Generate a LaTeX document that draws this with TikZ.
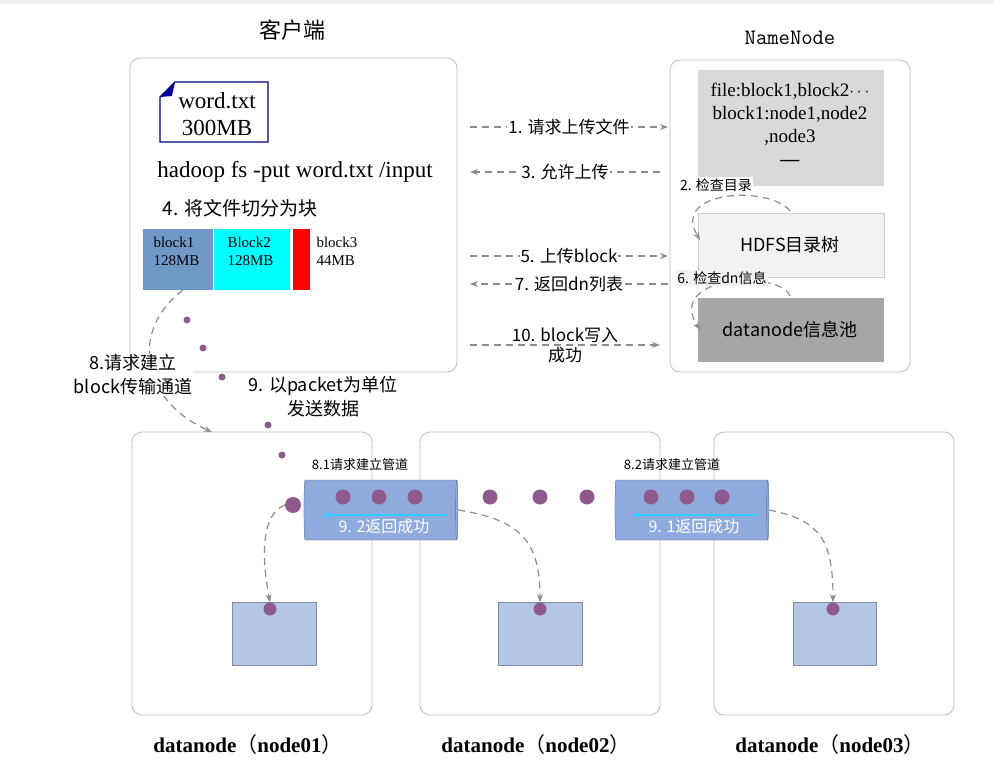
\documentclass[tikz,border=0pt]{standalone}
\usepackage{fontspec}
\setmainfont{Liberation Serif}
\newfontfamily\cjk{Noto Sans CJK SC}
\usetikzlibrary{arrows.meta,shapes.geometric}
\definecolor{dotc}{HTML}{8E5A8E}
\definecolor{cyl}{HTML}{8FAADC}
\definecolor{sbox}{HTML}{B4C7E7}
\definecolor{blk1}{HTML}{7099C8}
\definecolor{aqua}{HTML}{00FFFF}
\definecolor{arr}{HTML}{33CCFF}
\begin{document}
\begin{tikzpicture}[x=1pt,y=-1pt,
  frame/.style={draw=black!25,rounded corners=10pt,line width=0.8pt},
  darr/.style={draw=black!45,dash pattern=on 7pt off 5pt,line width=1.2pt,-{Stealth[length=8pt]}},
  lbl/.style={font=\cjk\fontsize{17}{20}\selectfont,fill=white,inner sep=1pt},
  dot/.style={circle,fill=dotc,inner sep=0pt,minimum size=7pt},
  bdot/.style={circle,fill=dotc,inner sep=0pt,minimum size=13pt},
  cylo/.style={cylinder,shape border rotate=0,draw=cyl!70!black,fill=cyl,minimum height=154pt,minimum width=60pt,aspect=0.35,cylinder uses custom fill,cylinder end fill=cyl!70,cylinder body fill=cyl}]
\useasboundingbox (0,0) rectangle (994,762);
\fill[black!6] (0,0) rectangle (994,4);
% client
\node[font=\cjk\fontsize{22}{24}\selectfont] (kh) at (292,30) {客户端};
\draw[frame] (130,58) rectangle (457,372);
\draw[draw=blue!50!black,line width=1.2pt] (175,82) -- (268,82) -- (268,142) -- (160,142) -- (160,97) -- cycle;
\fill[blue!60!black] (160,97) -- (175,82) -- (172,96) -- cycle;
\node[font=\fontsize{23}{27}\selectfont,align=center] (doc) at (217,114) {word.txt\\300MB};
\node[font=\fontsize{23}{26}\selectfont] (cmd) at (295,172) {hadoop fs -put word.txt /input};
\node[font=\cjk\fontsize{19}{22}\selectfont] (split) at (240,208) {4. 将文件切分为块};
\node[fill=blk1,minimum width=70pt,minimum height=61pt,anchor=north west,inner sep=0pt] (b1) at (143,229) {};
\node[font=\fontsize{15}{18}\selectfont,align=left,anchor=north west] at (150,234) {block1\\128MB};
\node[fill=aqua,minimum width=76pt,minimum height=61pt,anchor=north west,inner sep=0pt] (b2) at (214,229) {};
\node[font=\fontsize{15}{18}\selectfont,align=left,anchor=north west] at (224,234) {Block2\\128MB};
\node[fill=red,minimum width=17pt,minimum height=61pt,anchor=north west,inner sep=0pt] (b3) at (293,229) {};
\node[font=\fontsize{15}{18}\selectfont,align=left,anchor=north west] at (313,234) {block3\\44MB};
% namenode
\node[font=\ttfamily\fontsize{22}{24}\selectfont] (nn) at (790,38) {NameNode};
\draw[frame] (670,60) rectangle (910,372);
\node[fill=black!15,minimum width=186pt,minimum height=116pt,anchor=north west,inner sep=0pt] (meta) at (698,70) {};
\node[font=\fontsize{19}{23}\selectfont,align=center] at (790,124) {file:block1,block2$\cdots$\\block1:node1,node2\\,node3\\\textbf{---}};
\node[draw=black!20,fill=black!5,minimum width=186pt,minimum height=64pt,anchor=north west,inner sep=0pt] (tree) at (698,213) {};
\node[font=\cjk\fontsize{18}{20}\selectfont] at (790,245) {HDFS目录树};
\node[fill=black!35,minimum width=186pt,minimum height=64pt,anchor=north west,inner sep=0pt] (pool) at (698,298) {};
\node[font=\cjk\fontsize{18}{20}\selectfont] at (790,330) {datanode信息池};
% horizontal arrows
\coordinate (a1) at (470,127); \coordinate (a1e) at (668,127);
\draw[darr] (a1) -- (a1e) node[lbl,midway] {1. 请求上传文件};
\coordinate (a3) at (660,172); \coordinate (a3e) at (470,172);
\draw[darr] (a3) -- (a3e) node[lbl,midway] {3. 允许上传};
\coordinate (a5) at (470,256); \coordinate (a5e) at (668,256);
\draw[darr] (a5) -- (a5e) node[lbl,midway] {5. 上传block};
\coordinate (a7) at (668,284); \coordinate (a7e) at (470,284);
\draw[darr] (a7) -- (a7e) node[lbl,midway] {7. 返回dn列表};
\coordinate (a10) at (470,345); \coordinate (a10e) at (660,345);
\draw[darr] (a10) -- (a10e) node[lbl,midway,align=center,fill=none] {10. block写入\\成功};
\draw[darr] (790,211) .. controls (770,185) and (670,190) .. (700,240);
\node[font=\cjk\fontsize{14}{16}\selectfont,fill=white,inner sep=1pt] at (716,185) {2. 检查目录};
\draw[darr] (790,296) .. controls (780,270) and (665,275) .. (700,330);
\node[font=\cjk\fontsize{14}{16}\selectfont,fill=black!5,inner sep=1pt] at (722,278) {6. 检查dn信息};
% datanodes
\draw[frame] (132,432) rectangle (372,715);
\draw[frame] (420,432) rectangle (660,715);
\draw[frame] (714,432) rectangle (954,715);
\node[font=\fontsize{21}{24}\selectfont] (l1) at (248,745) {\textbf{datanode}{\cjk（}\textbf{node01}{\cjk）}};
\node[font=\fontsize{21}{24}\selectfont] (l2) at (536,745) {\textbf{datanode}{\cjk（}\textbf{node02}{\cjk）}};
\node[font=\fontsize{21}{24}\selectfont] (l3) at (830,745) {\textbf{datanode}{\cjk（}\textbf{node03}{\cjk）}};
\node[fill=sbox,draw=sbox!70!black,minimum width=84pt,minimum height=63pt,anchor=north west,inner sep=0pt] (r1) at (232,602) {};
\node[fill=sbox,draw=sbox!70!black,minimum width=84pt,minimum height=63pt,anchor=north west,inner sep=0pt] (r2) at (498,602) {};
\node[fill=sbox,draw=sbox!70!black,minimum width=83pt,minimum height=63pt,anchor=north west,inner sep=0pt] (r3) at (793,602) {};
\node[dot,minimum size=13pt] (d1) at (270,609) {};
\node[dot,minimum size=13pt] (d2) at (540,609) {};
\node[dot,minimum size=13pt] (d3) at (833,609) {};
% cylinders
\node[cylo] (c1) at (380,510) {};
\node[cylo] (c2) at (691,510) {};
\foreach \x in {343,379,415,651,687,722} \node[bdot,minimum size=15pt] at (\x,497) {};
\foreach \x in {490,540,587} \node[bdot,minimum size=15pt] at (\x,497) {};
\draw[arr,line width=2pt,-{Stealth[length=8pt]}] (447,515) -- (322,515);
\draw[arr,line width=2pt,-{Stealth[length=8pt]}] (757,515) -- (632,515);
\node[font=\cjk\fontsize{16}{18}\selectfont,text=white] at (384,526) {9. 2返回成功};
\node[font=\cjk\fontsize{16}{18}\selectfont,text=white] at (694,526) {9. 1返回成功};
\node[font=\cjk\fontsize{13}{15}\selectfont] at (360,465) {8.1请求建立管道};
\node[font=\cjk\fontsize{13}{15}\selectfont] at (672,465) {8.2请求建立管道};
% packet dots
\foreach \p in {(187,320),(203,348),(222,377),(268,425),(282,455)} \node[dot] at \p {};
\node[bdot,minimum size=16pt] (big) at (293,505) {};
\draw[darr] (big.west) .. controls (260,515) and (262,560) .. (d1.north);
\draw[darr] (c1.east) .. controls (520,520) and (540,540) .. (d2.north);
\draw[darr] (c2.east) .. controls (820,520) and (833,540) .. (d3.north);
\draw[darr] (183,290) .. controls (130,330) and (140,400) .. (212,432);
\node[font=\cjk\fontsize{18}{24}\selectfont,align=center,fill=white,inner sep=1pt] at (133,375) {8.请求建立\\block传输通道};
\node[font=\cjk\fontsize{18}{24}\selectfont,align=center,fill=white,inner sep=1pt] at (323,397) {9. 以packet为单位\\发送数据};
\end{tikzpicture}
\end{document}
